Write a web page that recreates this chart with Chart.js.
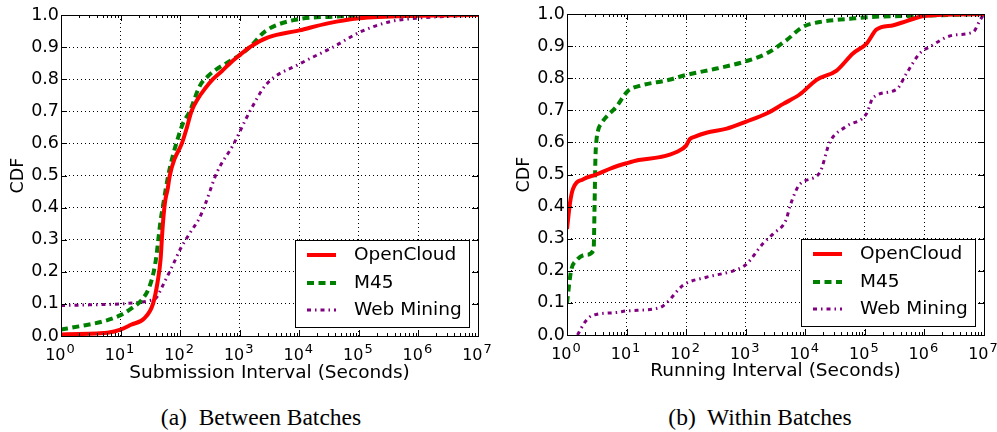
<!DOCTYPE html>
<html>
<head>
<meta charset="utf-8">
<script src="https://cdn.jsdelivr.net/npm/chart.js@4.4.1/dist/chart.umd.min.js"></script>
<style>
  body { margin: 0; background: #fff; width: 997px; height: 432px; position: relative; overflow: hidden; }
  .box { position: absolute; top: 0; width: 497px; height: 392px; }
  .caption { position: absolute; top: 406px; font-family: 'Liberation Serif', serif; font-size: 23.5px; line-height: 1; color: #000; white-space: pre; transform: translateX(-50%); }
</style>
</head>
<body>
<div class="box" style="left:0"><canvas id="between" width="497" height="392"></canvas></div>
<div class="box" style="left:500px"><canvas id="within" width="497" height="392"></canvas></div>
<div class="caption" style="left:261px">(a)  Between Batches</div>
<div class="caption" style="left:760px">(b)  Within Batches</div>
<script>
// tick labels
const xTicks = [1, 10, 100, 1000, 10000, 100000, 1000000, 10000000]
const xTickBase = '10'
const xTickExp = ['0', '1', '2', '3', '4', '5', '6', '7']
const yTicks = [0, 0.1, 0.2, 0.3, 0.4, 0.5, 0.6, 0.7, 0.8, 0.9, 1.0]
const seriesNames = ['OpenCloud', 'M45', 'Web Mining']

// (a) between batches - submission interval
const aOpenCloudX = [1, 2, 4, 6, 10, 15, 25, 35, 42, 47, 50, 53, 56, 62, 67, 80, 107, 130, 155, 200, 260, 355, 500, 690, 1000, 1480, 3000, 10000, 30000, 100000, 1000000, 10000000]
const aOpenCloudY = [0.005, 0.006, 0.008, 0.01, 0.02, 0.035, 0.055, 0.1, 0.17, 0.24, 0.32, 0.38, 0.42, 0.46, 0.5, 0.55, 0.6, 0.65, 0.7, 0.74, 0.77, 0.8, 0.825, 0.85, 0.875, 0.9, 0.93, 0.952, 0.974, 0.99, 0.998, 1.0]
const aM45X = [1, 2, 5, 10, 15, 22, 30, 36, 40, 43, 47, 52, 63, 75, 93, 110, 145, 215, 295, 400, 600, 1000, 1480, 2700, 8000, 37000, 300000, 10000000]
const aM45Y = [0.02, 0.03, 0.045, 0.065, 0.085, 0.11, 0.15, 0.2, 0.25, 0.3, 0.36, 0.41, 0.5, 0.56, 0.62, 0.66, 0.7, 0.78, 0.81, 0.83, 0.85, 0.875, 0.9, 0.95, 0.984, 0.995, 0.999, 1.0]
const aWebX = [1, 3, 10, 20, 30, 40, 52, 75, 100, 145, 214, 263, 415, 775, 1480, 2800, 10000, 37000, 105000, 330000, 930000, 10000000]
const aWebY = [0.095, 0.097, 0.1, 0.105, 0.11, 0.12, 0.16, 0.22, 0.27, 0.32, 0.37, 0.41, 0.51, 0.595, 0.7, 0.784, 0.847, 0.9, 0.947, 0.979, 0.99, 1.0]

// (b) within batches - running interval
const bOpenCloudX = [1, 1.12, 1.26, 1.86, 3.1, 5.6, 10, 16, 36, 69, 100, 115, 141, 219, 479, 1020, 2240, 4270, 8130, 15500, 33100, 63100, 107000, 158000, 302000, 501000, 1000000, 10000000]
const bOpenCloudY = [0.33, 0.41, 0.455, 0.485, 0.5, 0.52, 0.535, 0.545, 0.554, 0.57, 0.59, 0.61, 0.618, 0.63, 0.643, 0.665, 0.69, 0.72, 0.75, 0.795, 0.823, 0.877, 0.908, 0.952, 0.965, 0.978, 0.994, 1.0]
const bM45X = [1, 1.17, 1.45, 2.1, 2.8, 2.9, 3.0, 3.1, 3.3, 3.8, 6.8, 10.5, 16.6, 52, 100, 324, 1020, 2240, 4790, 9120, 17400, 56200, 107000, 1000000, 10000000]
const bM45Y = [0.1, 0.2, 0.233, 0.25, 0.265, 0.4, 0.55, 0.6, 0.635, 0.66, 0.712, 0.76, 0.776, 0.795, 0.81, 0.83, 0.853, 0.877, 0.918, 0.96, 0.975, 0.985, 0.99, 0.995, 1.0]
const bWebX = [1.5, 2.0, 2.6, 6.8, 10, 36, 47, 89, 219, 617, 1020, 1950, 2880, 4790, 5500, 8130, 17400, 25700, 49000, 107000, 138000, 339000, 501000, 832000, 1230000, 3020000, 6610000, 8510000, 10000000]
const bWebY = [0, 0.04, 0.06, 0.07, 0.075, 0.085, 0.1, 0.155, 0.18, 0.2, 0.22, 0.285, 0.315, 0.36, 0.4, 0.47, 0.505, 0.6, 0.65, 0.69, 0.74, 0.765, 0.815, 0.877, 0.898, 0.934, 0.944, 0.98, 1.0]

const FONT = 'DejaVu Sans'
const zip = (xs, ys) => xs.map((x, i) => ({ x: x, y: ys[i] }))

// frame, inward tick marks, 10^n labels and legend, matplotlib style
const framePlugin = {
    id: 'frame',
    afterDatasetsDraw(chart) {
        const { ctx, chartArea: a, scales } = chart
        ctx.save()
        ctx.strokeStyle = '#000'
        ctx.lineWidth = 1
        ctx.setLineDash([])
        ctx.beginPath()
        for (let e = 0; e < xTicks.length; e++) {
            for (let m = 1; m < 10; m++) {
                const v = xTicks[e] * m
                if (v > xTicks[xTicks.length - 1]) break
                const px = Math.round(scales.x.getPixelForValue(v)) + 0.5
                const len = m === 1 ? 6 : 3
                ctx.moveTo(px, a.bottom); ctx.lineTo(px, a.bottom - len)
                ctx.moveTo(px, a.top); ctx.lineTo(px, a.top + len)
            }
        }
        yTicks.forEach(v => {
            const py = Math.round(scales.y.getPixelForValue(v)) + 0.5
            ctx.moveTo(a.left, py); ctx.lineTo(a.left + 6, py)
            ctx.moveTo(a.right, py); ctx.lineTo(a.right - 6, py)
        })
        ctx.stroke()
        ctx.strokeRect(Math.round(a.left) + 0.5, Math.round(a.top) + 0.5, Math.round(a.right - a.left), Math.round(a.bottom - a.top))
        ctx.restore()
    },
    afterDraw(chart) {
        const { ctx, chartArea: a, scales } = chart
        ctx.save()
        // x tick labels as 10 with a raised exponent
        ctx.fillStyle = '#000'
        ctx.textBaseline = 'alphabetic'
        ctx.textAlign = 'left'
        const baseY = Math.round(a.bottom) + 24
        xTicks.forEach((v, i) => {
            const px = scales.x.getPixelForValue(v)
            ctx.font = '16px ' + FONT
            const bw = ctx.measureText(xTickBase).width
            ctx.font = '13px ' + FONT
            const ew = ctx.measureText(xTickExp[i]).width
            const x0 = px - (bw + ew + 1) / 2 - 1
            ctx.font = '16px ' + FONT
            ctx.fillText(xTickBase, x0, baseY)
            ctx.font = '13px ' + FONT
            ctx.fillText(xTickExp[i], x0 + bw + 1, baseY - 7)
        })

        // legend box in the lower right corner
        const w = 174, h = 87
        const left = Math.round(a.right - 9 - w), top = Math.round(a.bottom - 9 - h)
        ctx.fillStyle = '#fff'
        ctx.fillRect(left, top, w, h)
        ctx.strokeStyle = '#000'
        ctx.lineWidth = 1
        ctx.strokeRect(left + 0.5, top + 0.5, w, h)
        const rows = [15, 43, 70]
        chart.data.datasets.forEach((ds, i) => {
            const y = top + rows[i]
            ctx.strokeStyle = ds.borderColor
            ctx.lineWidth = ds.borderWidth
            ctx.setLineDash(ds.borderDash || [])
            ctx.beginPath()
            ctx.moveTo(left + 12, y)
            ctx.lineTo(left + 41, y)
            ctx.stroke()
            ctx.setLineDash([])
            ctx.fillStyle = '#000'
            ctx.font = '18.5px ' + FONT
            ctx.textBaseline = 'middle'
            ctx.fillText(ds.label, left + 59, y)
        })
        ctx.restore()
    }
}

function makeChart(id, series, xTitle, pad, yWidth, xHeight, yTitlePad, xTitlePad) {
    const styles = [
        { color: '#ff0000', width: 4, dash: [] },
        { color: '#008000', width: 4, dash: [7, 4.5] },
        { color: '#800080', width: 3, dash: [4, 4, 1.5, 4] }
    ]
    return new Chart(document.getElementById(id), {
        type: 'line',
        data: {
            datasets: series.map((pts, i) => ({
                label: seriesNames[i],
                data: pts,
                borderColor: styles[i].color,
                borderWidth: styles[i].width,
                borderDash: styles[i].dash,
                pointRadius: 0,
                fill: false,
                cubicInterpolationMode: 'monotone'
            }))
        },
        options: {
            responsive: false,
            animation: false,
            layout: { padding: pad },
            plugins: { legend: { display: false }, tooltip: { enabled: false } },
            scales: {
                x: {
                    type: 'logarithmic',
                    min: 1,
                    max: 10000000,
                    afterBuildTicks: (s) => { s.ticks = xTicks.map(v => ({ value: v })) },
                    afterFit: (s) => { s.height = xHeight; s.paddingLeft = 0; s.paddingRight = 0 },
                    ticks: { display: false, autoSkip: false, maxRotation: 0 },
                    grid: { color: '#000', lineWidth: 1, drawTicks: false },
                    border: { display: false, dash: [1, 3] },
                    title: { display: true, text: xTitle, color: '#000', font: { family: FONT, size: 18.5 }, padding: { top: 0, bottom: xTitlePad } }
                },
                y: {
                    min: 0,
                    max: 1,
                    afterBuildTicks: (s) => { s.ticks = yTicks.map(v => ({ value: v })) },
                    afterFit: (s) => { s.width = yWidth; s.paddingTop = 0; s.paddingBottom = 0 },
                    ticks: {
                        padding: 2,
                        color: '#000',
                        font: { family: FONT, size: 17.5 },
                        callback: (v) => v.toFixed(1)
                    },
                    grid: { color: '#000', lineWidth: 1, drawTicks: false },
                    border: { display: false, dash: [1, 3] },
                    title: { display: true, text: 'CDF', color: '#000', font: { family: FONT, size: 17.5 }, padding: { top: yTitlePad, bottom: 0 } }
                }
            }
        },
        plugins: [framePlugin]
    })
}

makeChart('between',
    [zip(aOpenCloudX, aOpenCloudY), zip(aM45X, aM45Y), zip(aWebX, aWebY)],
    'Submission Interval (Seconds)',
    { top: 15, right: 19, left: 0, bottom: 0 }, 61, 56, 8, 7.5)

makeChart('within',
    [zip(bOpenCloudX, bOpenCloudY), zip(bM45X, bM45Y), zip(bWebX, bWebY)],
    'Running Interval (Seconds)',
    { top: 14, right: 13, left: 0, bottom: 0 }, 67, 57, 14, 9.5)
</script>
</body>
</html>
